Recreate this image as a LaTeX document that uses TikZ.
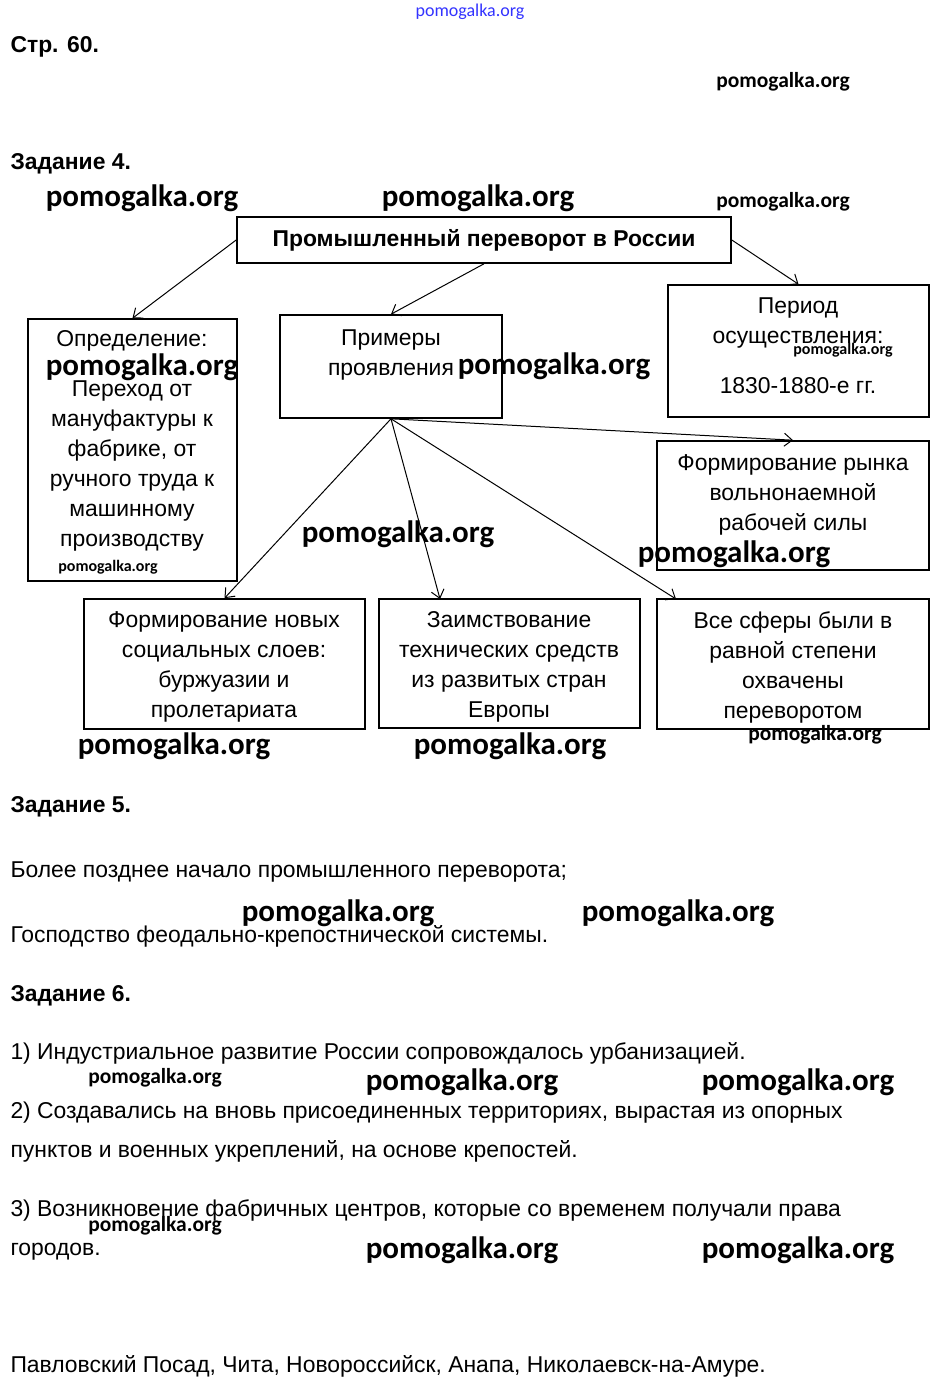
\documentclass[tikz,border=0pt]{standalone}
\usepackage{fontspec}
\setmainfont{Liberation Sans}
\newfontfamily\wmfont{Carlito}
\usepackage{tikz}
\usetikzlibrary{arrows.meta,positioning}

\begin{document}
\begin{tikzpicture}[x=1pt, y=-1pt,
  box/.style={rectangle, draw, line width=1.6pt, inner sep=0pt},
  lbl/.style={inner sep=0pt, align=center, font=\fontsize{22.9}{30}\selectfont},
  txt/.style={inner sep=0pt, anchor=base west, font=\fontsize{22.9}{30}\selectfont},
  head/.style={txt, font=\fontsize{22.9}{30}\selectfont\bfseries},
  wm/.style={inner sep=0pt, font=\wmfont\bfseries\fontsize{31}{31}\selectfont},
  wmm/.style={wm, font=\wmfont\bfseries\fontsize{21.5}{22}\selectfont},
  wms/.style={wm, font=\wmfont\bfseries\fontsize{16}{16}\selectfont},
  >={Straight Barb[length=8pt,width=13pt]}, line width=1pt
]
  \fill[white] (0,0) rectangle (940,1392);
  \useasboundingbox (0,0) rectangle (940,1392);

  % headings and page text
  \node[head] (page) at (10,52) {Стр. 60.};
  \node[head] (task4) at (10,169) {Задание 4.};
  \node[head] (task5) at (10,812) {Задание 5.};
  \node[head] (task6) at (10,1001) {Задание 6.};

  % scheme boxes
  \node[box, minimum width=494, minimum height=46] (title) at (484,240) {};
  \node[box, minimum width=209, minimum height=262] (defn) at (132.5,450) {};
  \node[box, minimum width=222, minimum height=103] (exbox) at (391,366.5) {};
  \node[box, minimum width=261, minimum height=132] (period) at (798.5,351) {};
  \node[box, minimum width=272, minimum height=129] (market) at (793,505.5) {};
  \node[box, minimum width=281, minimum height=130] (layers) at (224.5,664) {};
  \node[box, minimum width=261, minimum height=129] (borrow) at (509.5,663.5) {};
  \node[box, minimum width=272, minimum height=130] (spheres) at (793,664) {};

  \node[lbl, font=\fontsize{22.9}{30}\selectfont\bfseries] (titletxt) at (484,240)
    {Промышленный переворот в России};
  \node[lbl] (defntxt) at (132,441) {Определение:\\[20pt]Переход от\\мануфактуры к\\
    фабрике, от\\ручного труда к\\машинному\\производству};
  \node[lbl] (extxt) at (391,355) {Примеры\\проявления};
  \node[lbl] (periodtxt) at (798,346) {Период\\осуществления:\\[20pt]1830-1880-е гг.};
  \node[lbl] (markettxt) at (793,495) {Формирование рынка\\вольнонаемной\\рабочей силы};
  \node[lbl] (layerstxt) at (224,667) {Формирование новых\\социальных слоев:\\
    буржуазии и\\пролетариата};
  \node[lbl] (borrowtxt) at (509,666.5) {Заимствование\\технических средств\\
    из развитых стран\\Европы};
  \node[lbl] (spherestxt) at (793,667) {Все сферы были в\\равной степени\\охвачены\\переворотом};

  % connectors
  \coordinate (borrowin) at (440,599);
  \coordinate (spheresin) at (676,599);
  \draw[->] (title.west) -- (defn.north);
  \draw[->] (title.south) -- (exbox.north);
  \draw[->] (title.east) -- (period.north);
  \draw[->] (exbox.south) -- (market.north);
  \draw[->] (exbox.south) -- (layers.north);
  \draw[->] (exbox.south) -- (borrowin);
  \draw[->] (exbox.south) -- (spheresin);

  % answers
  \node[txt] (a5a) at (10,877) {Более позднее начало промышленного переворота;};
  \node[txt] (a5b) at (10,942) {Господство феодально-крепостнической системы.};
  \node[txt] (a6a) at (10,1059) {1) Индустриальное развитие России сопровождалось урбанизацией.};
  \node[txt] (a6b) at (10,1118) {2) Создавались на вновь присоединенных территориях, вырастая из опорных};
  \node[txt] (a6c) at (10,1157) {пунктов и военных укреплений, на основе крепостей.};
  \node[txt] (a6d) at (10,1216) {3) Возникновение фабричных центров, которые со временем получали права};
  \node[txt] (a6e) at (10,1255) {городов.};
  \node[txt] (a7) at (10,1372) {Павловский Посад, Чита, Новороссийск, Анапа, Николаевск-на-Амуре.};

  % watermarks
  \node[inner sep=0pt, text=blue!80, font=\wmfont\fontsize{18}{18}\selectfont] (wtop) at (470,12) {pomogalka.org};
  \node[wmm] (w1) at (783,82) {pomogalka.org};
  \node[wm] (w2) at (142,198) {pomogalka.org};
  \node[wm] (w3) at (478,198) {pomogalka.org};
  \node[wmm] (w4) at (783,202) {pomogalka.org};
  \node[wm] (w5) at (142,367) {pomogalka.org};
  \node[wm] (w6) at (554,366) {pomogalka.org};
  \node[wms] (w7) at (843,350) {pomogalka.org};
  \node[wm] (w8) at (398,534) {pomogalka.org};
  \node[wm] (w9) at (734,554) {pomogalka.org};
  \node[wms] (w10) at (108,567) {pomogalka.org};
  \node[wm] (w11) at (174,746) {pomogalka.org};
  \node[wm] (w12) at (510,746) {pomogalka.org};
  \node[wmm] (w13) at (815,735) {pomogalka.org};
  \node[wm] (w14) at (338,913) {pomogalka.org};
  \node[wm] (w15) at (678,913) {pomogalka.org};
  \node[wmm] (w16) at (155,1078) {pomogalka.org};
  \node[wm] (w17) at (462,1082) {pomogalka.org};
  \node[wm] (w18) at (798,1082) {pomogalka.org};
  \node[wmm] (w19) at (155,1226) {pomogalka.org};
  \node[wm] (w20) at (462,1250) {pomogalka.org};
  \node[wm] (w21) at (798,1250) {pomogalka.org};
\end{tikzpicture}
\end{document}
